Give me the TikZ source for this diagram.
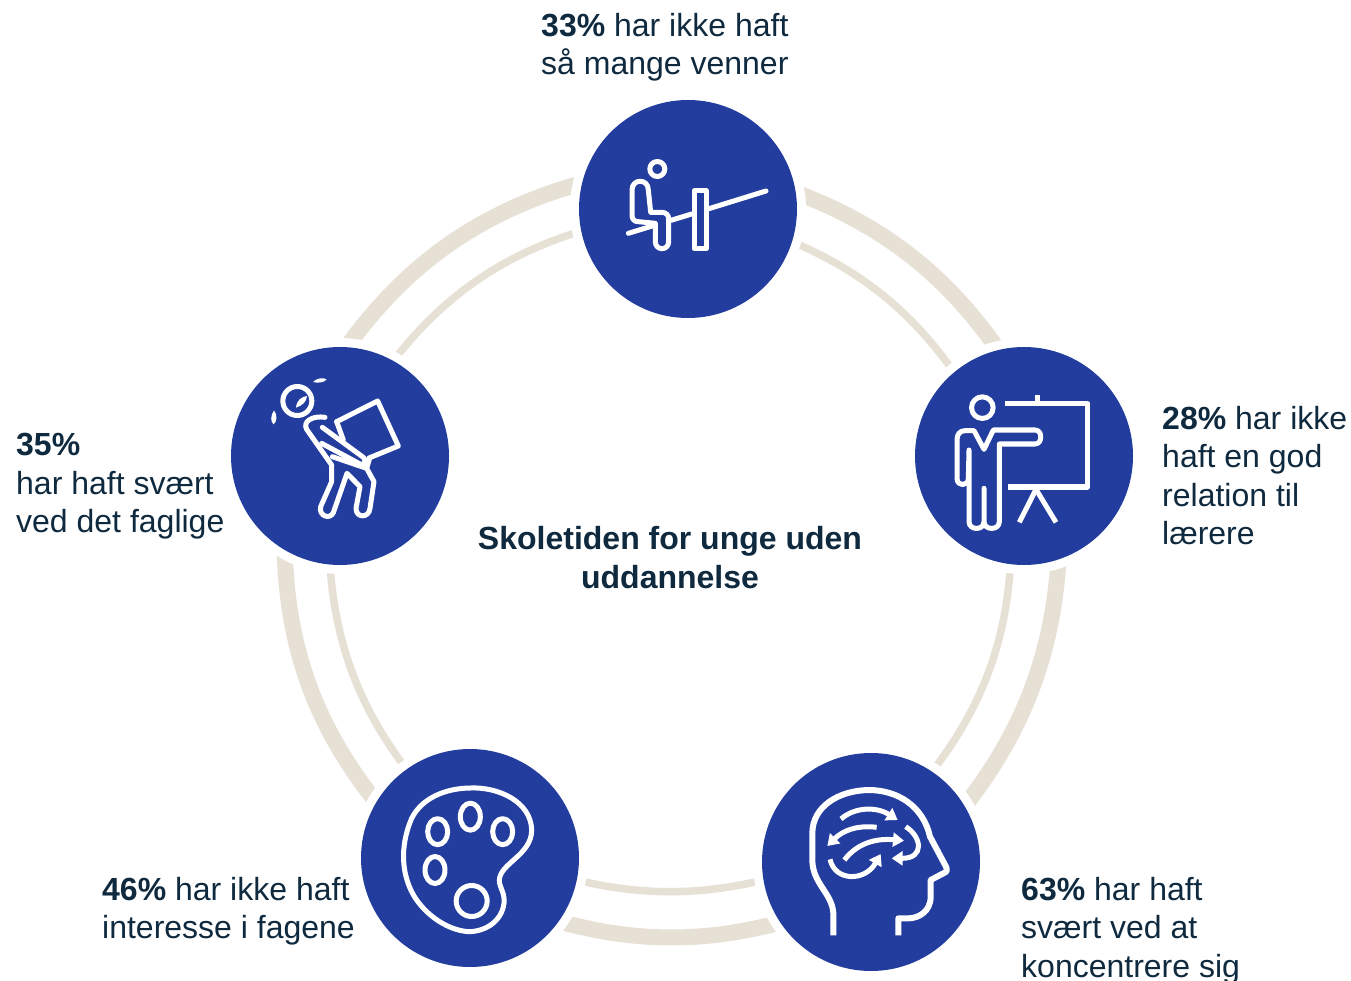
\documentclass[tikz,border=0pt]{standalone}
\usepackage{fontspec}
\setmainfont{Liberation Sans}
\usetikzlibrary{arrows.meta,calc}
\definecolor{discblue}{HTML}{233D9E}
\definecolor{sand}{HTML}{E7E1D5}
\definecolor{inkn}{HTML}{0F2A3F}
\tikzset{
  disc/.style={circle,fill=discblue,minimum size=218pt,inner sep=0pt,draw=none,preaction={draw=white,line width=18pt}},
  bigarc/.style={draw=sand,line width=16pt,shorten <=-9pt,shorten >=-9pt},
  smallarc/.style={draw=sand,line width=7.5pt,shorten <=-9pt,shorten >=-9pt},
  label/.style={text=inkn,anchor=north west,inner sep=0pt,align=left,font=\fontsize{32pt}{38.5pt}\selectfont},
  title/.style={text=inkn,anchor=center,inner sep=0pt,align=center,font=\fontsize{32pt}{38.5pt}\selectfont\bfseries},
  ic/.style={draw=white,line width=5pt,line join=round,line cap=round},
  icflat/.style={draw=white,line width=5pt,line join=round,line cap=butt},
  wtip/.style={draw=white,line width=5pt,line cap=butt,-{Triangle[width=14pt,length=11pt,fill=white]}},
}
% style, start point, end point (clockwise on the page), bulge
\newcommand\ringpiece[4]{%
  \coordinate (ra) at #2;
  \coordinate (rb) at #3;
  \coordinate (rp) at ($(ra)!.5!(rb)!#4*2pt!90:(rb)$);
  \draw[#1] (ra) .. controls ($(ra)!2/3!(rp)$) and ($(rb)!2/3!(rp)$) .. (rb);
}
\begin{document}
\begin{tikzpicture}[x=1pt,y=-1pt]
\useasboundingbox (0,0) rectangle (1351,981);
\fill[white] (0,0) rectangle (1351,981);
% rings
\ringpiece{bigarc}{(352.7,338.7)}{(572.7,185.7)}{23.3}
\ringpiece{bigarc}{(805.5,196.2)}{(992.8,342.2)}{18.3}
\ringpiece{bigarc}{(1058,568.7)}{(970.3,798.7)}{19}
\ringpiece{bigarc}{(770.8,925)}{(567.5,923.7)}{13.7}
\ringpiece{bigarc}{(370.5,795)}{(285,560)}{21}
\ringpiece{smallarc}{(398.7,353.8)}{(572.5,233.7)}{16.6}
\ringpiece{smallarc}{(800.5,245.3)}{(948.7,364.7)}{13.5}
\ringpiece{smallarc}{(1010,573)}{(937.5,764.5)}{15.7}
\ringpiece{smallarc}{(754.5,882.2)}{(585.5,882.2)}{10}
\ringpiece{smallarc}{(401,762)}{(330.5,573.3)}{15}
% discs
\node[disc] (top) at (688,209) {};
\node[disc] (right) at (1024,456) {};
\node[disc] (left) at (340,456) {};
\node[disc] (botleft) at (470,858) {};
\node[disc] (botright) at (871,862) {};
% icon: seesaw
\begin{scope}[shift={(570,95)},x=1pt/3,y=-1pt/3]
  \draw[ic] (262,222) circle[radius=7.5pt];
  \draw[ic] (205,380) .. controls (192,380) and (186,372) .. (186,360) -- (186,285)
     .. controls (186,250) and (235,250) .. (235,285) -- (242,352) -- (275,352)
     .. controls (288,352) and (296,360) .. (296,372) -- (296,440)
     .. controls (296,468) and (256,468) .. (256,440) -- (256,385) -- cycle;
  \draw[ic] (175,415) -- (250,392);
  \draw[ic] (303,376) -- (365,357);
  \draw[ic] (417,341) -- (588,288);
  \draw[ic] (372,288) rectangle (410,460);
\end{scope}
% icon: carrying
\begin{scope}[shift={(225,340)},x=1pt/3,y=-1pt/3]
  \draw[ic] (217,183) circle[radius=14.5pt];
  \fill[white] (213,203) .. controls (215,180) and (230,170) .. (246,168) .. controls (245,185) and (232,197) .. (213,203) -- cycle;
  \fill[white] (264,126) .. controls (275,114) and (295,112) .. (305,118) .. controls (298,128) and (278,130) .. (264,126) -- cycle;
  \fill[white] (147,211) .. controls (136,228) and (136,245) .. (146,253) .. controls (156,245) and (158,225) .. (147,211) -- cycle;
  \draw[ic] (335,245) -- (458,183) -- (520,318) -- (432,354);
  \draw[ic] (335,245) -- (355,300);
  \draw[ic] (300,232) .. controls (262,226) and (232,245) .. (245,268) -- (320,375) -- (320,425) -- (287,500)
    .. controls (280,528) and (315,540) .. (325,518) -- (366,400) -- (405,440) -- (393,505)
    .. controls (393,535) and (432,535) .. (435,505) -- (447,425) -- (425,385) -- (433,358);
  \draw[ic] (292,262) -- (415,352) .. controls (425,360) and (420,378) .. (405,372) -- (290,310);
  \draw[ic] (322,350) -- (425,385);
\end{scope}
% icon: teacher
\begin{scope}[shift={(910,340)},x=1pt/3,y=-1pt/3]
  \draw[ic] (217,203) circle[radius=10.8pt];
  \draw[icflat] (285,191) -- (533,191) -- (533,441) -- (293,441);
  \draw[icflat] (381,165) -- (381,191);
  \draw[icflat] (378,448) -- (328,547);
  \draw[icflat] (378,448) -- (438,547);
  \draw[ic] (192,272) -- (165,272) .. controls (148,272) and (141,285) .. (141,300) -- (141,415)
     .. controls (141,440) and (175,440) .. (175,415) -- (177,330) -- (177,545)
     .. controls (177,572) and (222,572) .. (222,545) -- (222,445) -- (222,545)
     .. controls (222,572) and (268,572) .. (268,545) -- (268,312) -- (375,312)
     .. controls (398,312) and (398,270) .. (375,270) -- (250,270) -- (222,328) -- cycle;
\end{scope}
% icon: palette
\begin{scope}[shift={(355,745)},x=1pt/3,y=-1pt/3]
  \draw[ic] (345,129) .. controls (430,125) and (528,170) .. (530,255)
    .. controls (530,330) and (435,355) .. (433,405)
    .. controls (433,430) and (450,440) .. (447,475)
    .. controls (440,530) and (390,560) .. (340,560)
    .. controls (270,555) and (200,500) .. (170,440)
    .. controls (135,370) and (140,290) .. (170,220)
    .. controls (200,160) and (270,130) .. (345,129) -- cycle;
  \draw[ic] (248,260) ellipse[x radius=10pt,y radius=13pt];
  \draw[ic] (346,215) ellipse[x radius=10pt,y radius=13.5pt];
  \draw[ic] (443,260) ellipse[x radius=10pt,y radius=13pt];
  \draw[ic] (240,375) ellipse[x radius=10pt,y radius=13.5pt];
  \draw[ic] (350,468) circle[radius=15.5pt];
\end{scope}
% icon: head
\begin{scope}[shift={(755,750)},x=1pt/3,y=-1pt/3]
  \draw[icflat,line width=6pt] (235,556) -- (235,490) .. controls (232,430) and (172,400) .. (172,330) -- (172,250)
     .. controls (172,170) and (250,122) .. (340,120)
     .. controls (430,120) and (505,170) .. (525,260)
     -- (573,350) .. controls (578,362) and (575,366) .. (565,370) -- (527,390) -- (527,440)
     .. controls (527,485) and (490,505) .. (460,505) -- (430,505) -- (430,556);
  \draw[wtip] (258,207) .. controls (300,170) and (365,170) .. (428,210);
  \draw[wtip] (365,232) .. controls (310,225) and (265,240) .. (217,288);
  \draw[wtip] (268,330) .. controls (310,275) and (370,265) .. (447,272);
  \draw[wtip] (452,230) .. controls (500,260) and (510,325) .. (410,325);
  \draw[wtip] (225,328) .. controls (240,395) and (330,395) .. (377,312);
\end{scope}
% texts
\node[label] (t1) at (541,13) {\textbf{33\%} har ikke haft\\så mange venner};
\node[label] (t2) at (1162,406) {\textbf{28\%} har ikke\\haft en god\\relation til\\lærere};
\node[label] (t3) at (1021,877) {\textbf{63\%} har haft\\svært ved at\\koncentrere sig};
\node[label] (t4) at (102,877) {\textbf{46\%} har ikke haft\\interesse i fagene};
\node[label] (t5) at (16,433) {\textbf{35\%}\\har haft svært\\ved det faglige};
\node[title] (center) at (670,557.5) {Skoletiden for unge uden\\uddannelse};
\end{tikzpicture}
\end{document}
